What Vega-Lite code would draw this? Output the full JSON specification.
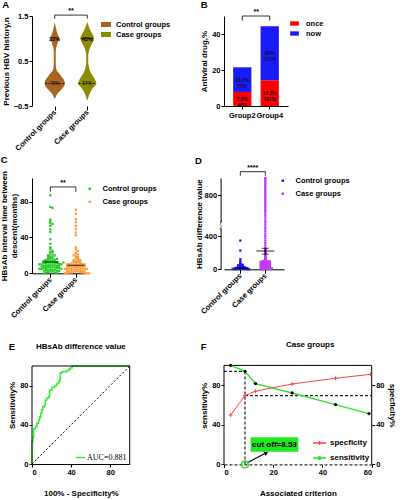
{
"$schema": "https://vega.github.io/schema/vega-lite/v6.json",
"padding": {"left": 0, "top": 0, "right": 0, "bottom": 0},
"columns": 2,
"spacing": {"row": 72, "column": 94},
"bounds": "flush",
"resolve": {"scale": {"color": "independent", "shape": "independent"}, "legend": {"color": "independent", "shape": "independent"}},
"config": {
 "font": "Liberation Sans",
 "view": {"stroke": null},
 "axis": {"labelFont": "Liberation Sans", "labelFontSize": 7.5, "labelFontWeight": "bold", "labelColor": "#000", "titleFont": "Liberation Sans", "titleFontSize": 8, "titleFontWeight": "bold", "titleColor": "#000", "domainColor": "#000", "tickColor": "#000", "grid": false, "tickSize": 3, "labelPadding": 1, "titlePadding": 3, "domainWidth": 1, "tickWidth": 1, "labelOverlap": false},
 "legend": {"labelFont": "Liberation Sans", "labelFontSize": 7.5, "labelFontWeight": "bold", "labelColor": "#000", "padding": 0},
 "title": {"fontSize": 9.5, "fontWeight": "bold", "anchor": "start", "frame": "bounds", "color": "#000", "font": "Liberation Sans"}
},
"concat": [
{
 "width": 78, "height": 90,
 "title": {"text": "A", "offset": -2.5},
 "layer": [
  {
   "data": {"values": [
    {"g":"Control groups","y":-0.34,"w":0},{"g":"Control groups","y":-0.3,"w":0.03},{"g":"Control groups","y":-0.23,"w":0.08},{"g":"Control groups","y":-0.16,"w":0.17},{"g":"Control groups","y":-0.08,"w":0.27},{"g":"Control groups","y":0,"w":0.31},{"g":"Control groups","y":0.07,"w":0.29},{"g":"Control groups","y":0.14,"w":0.22},{"g":"Control groups","y":0.22,"w":0.14},{"g":"Control groups","y":0.29,"w":0.06},{"g":"Control groups","y":0.45,"w":0.03},{"g":"Control groups","y":0.7,"w":0.03},{"g":"Control groups","y":0.81,"w":0.05},{"g":"Control groups","y":0.93,"w":0.1},{"g":"Control groups","y":1,"w":0.14},{"g":"Control groups","y":1.11,"w":0.08},{"g":"Control groups","y":1.22,"w":0.04},{"g":"Control groups","y":1.36,"w":0},
    {"g":"Case groups","y":-0.38,"w":0},{"g":"Case groups","y":-0.34,"w":0.02},{"g":"Case groups","y":-0.25,"w":0.06},{"g":"Case groups","y":-0.16,"w":0.12},{"g":"Case groups","y":-0.08,"w":0.2},{"g":"Case groups","y":0,"w":0.28},{"g":"Case groups","y":0.1,"w":0.23},{"g":"Case groups","y":0.18,"w":0.16},{"g":"Case groups","y":0.25,"w":0.1},{"g":"Case groups","y":0.37,"w":0.05},{"g":"Case groups","y":0.48,"w":0.03},{"g":"Case groups","y":0.63,"w":0.03},{"g":"Case groups","y":0.74,"w":0.06},{"g":"Case groups","y":0.85,"w":0.12},{"g":"Case groups","y":0.93,"w":0.18},{"g":"Case groups","y":1,"w":0.21},{"g":"Case groups","y":1.07,"w":0.18},{"g":"Case groups","y":1.15,"w":0.12},{"g":"Case groups","y":1.26,"w":0.05},{"g":"Case groups","y":1.37,"w":0}
   ]},
   "transform": [
    {"calculate": "datum.g === 'Control groups' ? 1 : 2", "as": "c"},
    {"calculate": "datum.c - datum.w", "as": "lo"},
    {"calculate": "datum.c + datum.w", "as": "hi"}
   ],
   "mark": {"type": "area", "orient": "horizontal", "interpolate": "monotone"},
   "encoding": {
    "y": {"field": "y", "type": "quantitative", "scale": {"domain": [-0.5, 1.5], "nice": false, "zero": false}, "axis": {"values": [-0.5, 0, 0.5, 1, 1.5], "format": ".1f", "title": "Previous HBV history,n", "labelOverlap": false}},
    "x": {"field": "lo", "type": "quantitative", "scale": {"domain": [0.3, 2.7], "nice": false, "zero": false}, "axis": {"values": [1, 2], "labelExpr": "datum.value == 1 ? 'Control groups' : 'Case groups'", "domain": false, "title": null, "labelAngle": -45, "labelAlign": "right", "labelBaseline": "middle", "tickSize": 4, "labelFontSize": 7.5, "labelOverlap": false}},
    "x2": {"field": "hi"},
    "color": {"field": "g", "type": "nominal", "scale": {"domain": ["Control groups", "Case groups"], "range": ["#a9651f", "#8c8c00"]}, "legend": {"title": null, "orient": "none", "legendX": 68, "legendY": 2.5, "symbolType": "M-1,-0.5H1V0.5H-1Z", "symbolSize": 100, "labelOffset": 4, "rowPadding": 0}}
   }
  },
  {
   "data": {"values": [{"g":"Control groups","y":0,"w":0.3},{"g":"Case groups","y":1,"w":0.2},{"g":"Case groups","y":0,"w":0.27}]},
   "transform": [
    {"calculate": "datum.g === 'Control groups' ? 1 : 2", "as": "c"},
    {"calculate": "datum.c - datum.w", "as": "lo"},
    {"calculate": "datum.c + datum.w", "as": "hi"}
   ],
   "mark": {"type": "rule", "color": "#000", "strokeWidth": 0.8, "strokeDash": [2, 1.5]},
   "encoding": {"x": {"field": "lo", "type": "quantitative"}, "x2": {"field": "hi"}, "y": {"field": "y", "type": "quantitative"}}
  },
  {
   "data": {"values": [{"g":"Control groups","y":1,"t":"22%"},{"g":"Case groups","y":1,"t":"43%"}]},
   "transform": [{"calculate": "datum.g === 'Control groups' ? 1 : 2", "as": "c"}],
   "mark": {"type": "text", "fontSize": 5.5, "fontWeight": "bold", "color": "#000", "baseline": "middle"},
   "encoding": {"x": {"field": "c", "type": "quantitative"}, "y": {"field": "y", "type": "quantitative"}, "text": {"field": "t"}}
  },
  {
   "data": {"values": [{"g":"Control groups","y":0,"t":"78%"},{"g":"Case groups","y":0,"t":"57%"}]},
   "transform": [{"calculate": "datum.g === 'Control groups' ? 1 : 2", "as": "c"}],
   "mark": {"type": "text", "fontSize": 4.5, "color": "#000", "baseline": "middle"},
   "encoding": {"x": {"field": "c", "type": "quantitative"}, "y": {"field": "y", "type": "quantitative"}, "text": {"field": "t"}}
  },
  {
   "data": {"values": [{"x":1,"y":1.44,"o":1},{"x":1,"y":1.52,"o":2},{"x":2,"y":1.52,"o":3},{"x":2,"y":1.44,"o":4}]},
   "mark": {"type": "line", "color": "#000", "strokeWidth": 0.8},
   "encoding": {"x": {"field": "x", "type": "quantitative"}, "y": {"field": "y", "type": "quantitative"}, "order": {"field": "o"}}
  },
  {
   "data": {"values": [{"x":1.5,"y":1.52,"t":"**"}]},
   "mark": {"type": "text", "fontSize": 7, "fontWeight": "bold", "baseline": "bottom", "dy": -1, "color": "#000"},
   "encoding": {"x": {"field": "x", "type": "quantitative"}, "y": {"field": "y", "type": "quantitative"}, "text": {"field": "t"}}
  }
 ]
},
{
 "width": 64, "height": 90,
 "title": {"text": "B", "offset": -1.5},
 "data": {"values": [
  {"grp":"Group2","type":"once","v":7.8,"lab":"7.8%\n4/51"},
  {"grp":"Group2","type":"now","v":13.7,"lab":"13.7%\n7/51"},
  {"grp":"Group4","type":"once","v":14.3,"lab":"14.3%\n10/70"},
  {"grp":"Group4","type":"now","v":30,"lab":"30%\n21/70"}
 ]},
 "layer": [
  {
   "mark": {"type": "bar"},
   "encoding": {
    "x": {"field": "grp", "type": "nominal", "scale": {"paddingInner": 0.335, "paddingOuter": 0.333}, "axis": {"title": null, "labelAngle": 0, "labelFontSize": 7.5, "labelPadding": 2}},
    "y": {"field": "v", "type": "quantitative", "stack": "zero", "scale": {"domain": [0, 50], "nice": false}, "axis": {"values": [0, 10, 20, 30, 40, 50], "title": "Antiviral drug,%", "labelOverlap": false}},
    "color": {"field": "type", "type": "nominal", "scale": {"domain": ["once", "now"], "range": ["#ff0000", "#1a1aff"]}, "legend": {"title": null, "orient": "none", "legendX": 65, "legendY": 2, "symbolType": "M-1,-0.5H1V0.5H-1Z", "symbolSize": 75, "labelOffset": 6, "rowPadding": 1}},
    "order": {"field": "type", "sort": "descending"}
   }
  },
  {
   "transform": [
    {"stack": "v", "groupby": ["grp"], "sort": [{"field": "type", "order": "descending"}], "as": ["v0", "v1"]},
    {"calculate": "(datum.v0 + datum.v1) / 2", "as": "mid"}
   ],
   "mark": {"type": "text", "fontSize": 5, "fontWeight": "bold", "color": "#111", "lineBreak": "\n", "lineHeight": 6, "baseline": "middle"},
   "encoding": {"x": {"field": "grp", "type": "nominal"}, "y": {"field": "mid", "type": "quantitative"}, "text": {"field": "lab"}}
  },
  {
   "data": {"values": [{"grp":"Group2","y":47.5,"o":1},{"grp":"Group2","y":50,"o":2},{"grp":"Group4","y":50,"o":3},{"grp":"Group4","y":47.5,"o":4}]},
   "mark": {"type": "line", "color": "#000", "strokeWidth": 0.8},
   "encoding": {"x": {"field": "grp", "type": "nominal"}, "y": {"field": "y", "type": "quantitative"}, "order": {"field": "o"}}
  },
  {
   "data": {"values": [{"grp":"Group2","y":50,"t":"**"}]},
   "mark": {"type": "text", "fontSize": 7, "fontWeight": "bold", "baseline": "bottom", "dy": -1, "dx": 14, "color": "#000"},
   "encoding": {"x": {"field": "grp", "type": "nominal"}, "y": {"field": "y", "type": "quantitative"}, "text": {"field": "t"}}
  }
 ]
},
{
 "width": 53, "height": 95.3,
 "title": {"text": "C", "offset": 6},
 "layer": [
  {
   "data": {"values": [
    {"g":"Control groups","v":87},{"g":"Control groups","v":74},{"g":"Control groups","v":73},{"g":"Control groups","v":60},{"g":"Control groups","v":58},{"g":"Control groups","v":56},{"g":"Control groups","v":55},{"g":"Control groups","v":53},{"g":"Control groups","v":49},{"g":"Control groups","v":46},{"g":"Control groups","v":38},{"g":"Control groups","v":33},{"g":"Control groups","v":29},{"g":"Control groups","v":27},{"g":"Control groups","v":25},{"g":"Control groups","v":24},{"g":"Control groups","v":22},{"g":"Control groups","v":21},{"g":"Control groups","v":20},{"g":"Control groups","v":19},{"g":"Control groups","v":18},{"g":"Control groups","v":17},{"g":"Control groups","v":16.5},{"g":"Control groups","v":16},{"g":"Control groups","v":15},{"g":"Control groups","v":15},{"g":"Control groups","v":14.5},{"g":"Control groups","v":14},{"g":"Control groups","v":13.5},{"g":"Control groups","v":13},{"g":"Control groups","v":13},{"g":"Control groups","v":12.5},{"g":"Control groups","v":12},{"g":"Control groups","v":12},{"g":"Control groups","v":12},{"g":"Control groups","v":11.5},{"g":"Control groups","v":11},{"g":"Control groups","v":11},{"g":"Control groups","v":11},{"g":"Control groups","v":10.5},{"g":"Control groups","v":10},{"g":"Control groups","v":10},{"g":"Control groups","v":10},{"g":"Control groups","v":9.5},{"g":"Control groups","v":9},{"g":"Control groups","v":9},{"g":"Control groups","v":9},{"g":"Control groups","v":8.5},{"g":"Control groups","v":8},{"g":"Control groups","v":8},{"g":"Control groups","v":8},{"g":"Control groups","v":7.5},{"g":"Control groups","v":7},{"g":"Control groups","v":7},{"g":"Control groups","v":7},{"g":"Control groups","v":6.5},{"g":"Control groups","v":6},{"g":"Control groups","v":6},{"g":"Control groups","v":6},{"g":"Control groups","v":5.5},{"g":"Control groups","v":5},{"g":"Control groups","v":5},{"g":"Control groups","v":5},{"g":"Control groups","v":4.5},{"g":"Control groups","v":4},{"g":"Control groups","v":4},{"g":"Control groups","v":4},{"g":"Control groups","v":3.5},{"g":"Control groups","v":3},{"g":"Control groups","v":3},{"g":"Control groups","v":2.5},{"g":"Control groups","v":2},{"g":"Control groups","v":2},{"g":"Control groups","v":1.5},{"g":"Control groups","v":1},{"g":"Control groups","v":1},{"g":"Control groups","v":0.5},{"g":"Control groups","v":0},{"g":"Control groups","v":18},{"g":"Control groups","v":20},{"g":"Control groups","v":14},{"g":"Control groups","v":16},{"g":"Control groups","v":12},{"g":"Control groups","v":24},
    {"g":"Case groups","v":71},{"g":"Case groups","v":66.5},{"g":"Case groups","v":60.5},{"g":"Case groups","v":57},{"g":"Case groups","v":53},{"g":"Case groups","v":49.5},{"g":"Case groups","v":45.5},{"g":"Case groups","v":42.5},{"g":"Case groups","v":29},{"g":"Case groups","v":27},{"g":"Case groups","v":25},{"g":"Case groups","v":23},{"g":"Case groups","v":22},{"g":"Case groups","v":21},{"g":"Case groups","v":20},{"g":"Case groups","v":19},{"g":"Case groups","v":18},{"g":"Case groups","v":17},{"g":"Case groups","v":16},{"g":"Case groups","v":15},{"g":"Case groups","v":15},{"g":"Case groups","v":14},{"g":"Case groups","v":14},{"g":"Case groups","v":13},{"g":"Case groups","v":13},{"g":"Case groups","v":12},{"g":"Case groups","v":12},{"g":"Case groups","v":12},{"g":"Case groups","v":11},{"g":"Case groups","v":11},{"g":"Case groups","v":10.5},{"g":"Case groups","v":10},{"g":"Case groups","v":10},{"g":"Case groups","v":10},{"g":"Case groups","v":9.5},{"g":"Case groups","v":9},{"g":"Case groups","v":9},{"g":"Case groups","v":9},{"g":"Case groups","v":8.5},{"g":"Case groups","v":8},{"g":"Case groups","v":8},{"g":"Case groups","v":8},{"g":"Case groups","v":7.5},{"g":"Case groups","v":7},{"g":"Case groups","v":7},{"g":"Case groups","v":7},{"g":"Case groups","v":6.5},{"g":"Case groups","v":6},{"g":"Case groups","v":6},{"g":"Case groups","v":6},{"g":"Case groups","v":5.5},{"g":"Case groups","v":5},{"g":"Case groups","v":5},{"g":"Case groups","v":5},{"g":"Case groups","v":4.5},{"g":"Case groups","v":4},{"g":"Case groups","v":4},{"g":"Case groups","v":4},{"g":"Case groups","v":3.5},{"g":"Case groups","v":3},{"g":"Case groups","v":3},{"g":"Case groups","v":3},{"g":"Case groups","v":2.5},{"g":"Case groups","v":2},{"g":"Case groups","v":2},{"g":"Case groups","v":2},{"g":"Case groups","v":1.5},{"g":"Case groups","v":1},{"g":"Case groups","v":1},{"g":"Case groups","v":1},{"g":"Case groups","v":0.5},{"g":"Case groups","v":0.5},{"g":"Case groups","v":0},{"g":"Case groups","v":0},{"g":"Case groups","v":0}
   ]},
   "transform": [
    {"calculate": "datum.g === 'Control groups' ? 1 : 2", "as": "c"},
    {"calculate": "floor(datum.v / 2.5)", "as": "b"},
    {"window": [{"op": "row_number", "as": "rn"}], "groupby": ["g", "b"]},
    {"calculate": "datum.c + (datum.rn % 2 === 0 ? 1 : -1) * floor(datum.rn / 2) * 0.086", "as": "xp"}
   ],
   "mark": {"type": "point", "shape": "square", "filled": true, "size": 5, "opacity": 1},
   "encoding": {
    "x": {"field": "xp", "type": "quantitative", "scale": {"domain": [0.28, 2.36], "nice": false, "zero": false}, "axis": {"values": [1, 2], "labelExpr": "datum.value == 1 ? 'Control groups' : 'Case groups'", "title": null, "labelAngle": -45, "labelAlign": "right", "labelBaseline": "middle", "tickSize": 4, "labelFontSize": 7.5, "labelOverlap": false}},
    "y": {"field": "v", "type": "quantitative", "scale": {"domain": [0, 106.4], "nice": false}, "axis": {"values": [0, 20, 40, 60, 80, 100], "title": ["HBsAb interval time between", "descent(months)"], "titleLineHeight": 10, "titlePadding": 1, "labelOverlap": false}},
    "color": {"field": "g", "type": "nominal", "scale": {"domain": ["Control groups", "Case groups"], "range": ["#22cc22", "#ff9a3c"]}, "legend": {"title": null, "orient": "none", "legendX": 54, "legendY": 7, "symbolType": "square", "symbolSize": 6, "labelOffset": 9, "rowPadding": 4}}
   }
  },
  {
   "data": {"values": [{"g":"Control groups","v":12.6},{"g":"Case groups","v":8.9}]},
   "transform": [{"calculate": "datum.g === 'Control groups' ? 1 : 2", "as": "c"}],
   "mark": {"type": "tick", "orient": "horizontal", "size": 17, "thickness": 1.2, "color": "#000"},
   "encoding": {"x": {"field": "c", "type": "quantitative"}, "y": {"field": "v", "type": "quantitative"}}
  },
  {
   "data": {"values": [{"x":1,"y":91,"o":1},{"x":1,"y":96.4,"o":2},{"x":2,"y":96.4,"o":3},{"x":2,"y":91,"o":4}]},
   "mark": {"type": "line", "color": "#000", "strokeWidth": 0.8},
   "encoding": {"x": {"field": "x", "type": "quantitative"}, "y": {"field": "y", "type": "quantitative"}, "order": {"field": "o"}}
  },
  {
   "data": {"values": [{"x":1.5,"y":96.4,"t":"**"}]},
   "mark": {"type": "text", "fontSize": 7, "fontWeight": "bold", "baseline": "bottom", "dy": -1, "color": "#000"},
   "encoding": {"x": {"field": "x", "type": "quantitative"}, "y": {"field": "y", "type": "quantitative"}, "text": {"field": "t"}}
  }
 ]
},
{
 "width": 60, "height": 91.3,
 "title": {"text": "D", "offset": -2},
 "layer": [
  {
   "data": {"values": [
    {"g":"Control groups","v":345},{"g":"Control groups","v":225},{"g":"Control groups","v":122},{"g":"Control groups","v":98},{"g":"Control groups","v":82},{"g":"Control groups","v":70},{"g":"Control groups","v":62},{"g":"Control groups","v":58},{"g":"Control groups","v":55},{"g":"Control groups","v":52},{"g":"Control groups","v":50},{"g":"Control groups","v":48},{"g":"Control groups","v":45},{"g":"Control groups","v":43},{"g":"Control groups","v":40},{"g":"Control groups","v":38},{"g":"Control groups","v":36},{"g":"Control groups","v":34},{"g":"Control groups","v":32},{"g":"Control groups","v":30},{"g":"Control groups","v":28},{"g":"Control groups","v":27},{"g":"Control groups","v":25},{"g":"Control groups","v":24},{"g":"Control groups","v":22},{"g":"Control groups","v":21},{"g":"Control groups","v":20},{"g":"Control groups","v":19},{"g":"Control groups","v":18},{"g":"Control groups","v":17},{"g":"Control groups","v":16},{"g":"Control groups","v":15},{"g":"Control groups","v":14},{"g":"Control groups","v":13},{"g":"Control groups","v":12},{"g":"Control groups","v":11},{"g":"Control groups","v":10},{"g":"Control groups","v":9},{"g":"Control groups","v":8},{"g":"Control groups","v":7},{"g":"Control groups","v":6},{"g":"Control groups","v":5},{"g":"Control groups","v":4},{"g":"Control groups","v":3},{"g":"Control groups","v":2},{"g":"Control groups","v":1},{"g":"Control groups","v":0.5},{"g":"Control groups","v":0},{"g":"Control groups","v":0},
    {"g":"Case groups","v":1000},{"g":"Case groups","v":980},{"g":"Case groups","v":960},{"g":"Case groups","v":940},{"g":"Case groups","v":920},{"g":"Case groups","v":900},{"g":"Case groups","v":880},{"g":"Case groups","v":860},{"g":"Case groups","v":840},{"g":"Case groups","v":820},{"g":"Case groups","v":800},{"g":"Case groups","v":780},{"g":"Case groups","v":760},{"g":"Case groups","v":740},{"g":"Case groups","v":720},{"g":"Case groups","v":700},{"g":"Case groups","v":680},{"g":"Case groups","v":660},{"g":"Case groups","v":640},{"g":"Case groups","v":620},{"g":"Case groups","v":600},
    {"g":"Case groups","v":580},{"g":"Case groups","v":560},{"g":"Case groups","v":540},{"g":"Case groups","v":520},{"g":"Case groups","v":500},{"g":"Case groups","v":480},{"g":"Case groups","v":460},{"g":"Case groups","v":440},{"g":"Case groups","v":420},{"g":"Case groups","v":400},
    {"g":"Case groups","v":372},{"g":"Case groups","v":344},{"g":"Case groups","v":316},{"g":"Case groups","v":288},{"g":"Case groups","v":260},{"g":"Case groups","v":250},{"g":"Case groups","v":240},{"g":"Case groups","v":230},{"g":"Case groups","v":222},{"g":"Case groups","v":215},{"g":"Case groups","v":208},{"g":"Case groups","v":200},{"g":"Case groups","v":194},{"g":"Case groups","v":188},{"g":"Case groups","v":182},{"g":"Case groups","v":176},{"g":"Case groups","v":170},{"g":"Case groups","v":164},{"g":"Case groups","v":158},{"g":"Case groups","v":152},{"g":"Case groups","v":146},{"g":"Case groups","v":140},{"g":"Case groups","v":134},{"g":"Case groups","v":128},{"g":"Case groups","v":122},{"g":"Case groups","v":116},{"g":"Case groups","v":110},{"g":"Case groups","v":104},{"g":"Case groups","v":100},{"g":"Case groups","v":97},{"g":"Case groups","v":94},{"g":"Case groups","v":91},{"g":"Case groups","v":88},{"g":"Case groups","v":85},{"g":"Case groups","v":82},{"g":"Case groups","v":79},{"g":"Case groups","v":76},{"g":"Case groups","v":73},{"g":"Case groups","v":70},{"g":"Case groups","v":67},{"g":"Case groups","v":64},{"g":"Case groups","v":61},{"g":"Case groups","v":58},{"g":"Case groups","v":55},{"g":"Case groups","v":52},{"g":"Case groups","v":49},{"g":"Case groups","v":46},{"g":"Case groups","v":43},{"g":"Case groups","v":40},{"g":"Case groups","v":37},{"g":"Case groups","v":34},{"g":"Case groups","v":31},{"g":"Case groups","v":28},{"g":"Case groups","v":25},{"g":"Case groups","v":22},{"g":"Case groups","v":19},{"g":"Case groups","v":16},{"g":"Case groups","v":13},{"g":"Case groups","v":10},{"g":"Case groups","v":8},{"g":"Case groups","v":6},{"g":"Case groups","v":4},{"g":"Case groups","v":2},{"g":"Case groups","v":0},
    {"g":"Case groups","v":99},{"g":"Case groups","v":95},{"g":"Case groups","v":90},{"g":"Case groups","v":86},{"g":"Case groups","v":81},{"g":"Case groups","v":77},{"g":"Case groups","v":72},{"g":"Case groups","v":68},{"g":"Case groups","v":63},{"g":"Case groups","v":59},{"g":"Case groups","v":54},{"g":"Case groups","v":50},{"g":"Case groups","v":45},{"g":"Case groups","v":41},{"g":"Case groups","v":36},{"g":"Case groups","v":32},{"g":"Case groups","v":27},{"g":"Case groups","v":23},{"g":"Case groups","v":18},{"g":"Case groups","v":14},{"g":"Case groups","v":9},{"g":"Case groups","v":5},{"g":"Case groups","v":1},{"g":"Case groups","v":3},{"g":"Case groups","v":7},{"g":"Case groups","v":11},{"g":"Case groups","v":15},{"g":"Case groups","v":20},{"g":"Case groups","v":24},{"g":"Case groups","v":29},{"g":"Case groups","v":33},{"g":"Case groups","v":38},{"g":"Case groups","v":42},{"g":"Case groups","v":47},{"g":"Case groups","v":51},{"g":"Case groups","v":56},{"g":"Case groups","v":60},{"g":"Case groups","v":65},{"g":"Case groups","v":69},{"g":"Case groups","v":74},{"g":"Case groups","v":78},{"g":"Case groups","v":83},{"g":"Case groups","v":87},{"g":"Case groups","v":92},{"g":"Case groups","v":96}
   ]},
   "transform": [
    {"calculate": "datum.g === 'Control groups' ? 1 : 2", "as": "c"},
    {"calculate": "floor(datum.v / 6)", "as": "b"},
    {"window": [{"op": "row_number", "as": "rn"}], "groupby": ["g", "b"]},
    {"calculate": "datum.c + (datum.rn % 2 === 0 ? 1 : -1) * floor(datum.rn / 2) * 0.088", "as": "xp"}
   ],
   "mark": {"type": "point", "shape": "square", "filled": true, "size": 5, "opacity": 1},
   "encoding": {
    "x": {"field": "xp", "type": "quantitative", "scale": {"domain": [0.348, 2.748], "nice": false, "zero": false}, "axis": {"values": [1, 2], "labelExpr": "datum.value == 1 ? 'Control groups' : 'Case groups'", "title": null, "labelAngle": -45, "labelAlign": "right", "labelBaseline": "middle", "tickSize": 4, "labelFontSize": 7.5, "labelOverlap": false}},
    "y": {"field": "v", "type": "quantitative", "scale": {"domain": [0, 400, 600, 1000], "range": [91.3, 58, 34.7, 0], "nice": false, "zero": false}, "axis": {"values": [0, 200, 400, 600, 800, 1000], "format": "d", "title": "HBsAb difference value", "offset": 3.4, "titlePadding": 1, "labelOverlap": false}},
    "color": {"field": "g", "type": "nominal", "scale": {"domain": ["Control groups", "Case groups"], "range": ["#1a1aff", "#c03cf0"]}, "legend": {"title": null, "orient": "none", "legendX": 55, "legendY": -1, "symbolType": "square", "symbolSize": 6, "labelOffset": 9, "rowPadding": 4}}
   }
  },
  {
   "data": {"values": [{"g":"Control groups","v":15},{"g":"Case groups","v":220}]},
   "transform": [{"calculate": "datum.g === 'Control groups' ? 1 : 2", "as": "c"}],
   "mark": {"type": "tick", "orient": "horizontal", "size": 18, "thickness": 1.2, "color": "#000"},
   "encoding": {"x": {"field": "c", "type": "quantitative"}, "y": {"field": "v", "type": "quantitative"}}
  },
  {
   "data": {"values": [{"g":"Control groups","v":10},{"g":"Control groups","v":20},{"g":"Case groups","v":182},{"g":"Case groups","v":252}]},
   "transform": [{"calculate": "datum.g === 'Control groups' ? 1 : 2", "as": "c"}],
   "mark": {"type": "tick", "orient": "horizontal", "size": 7, "thickness": 1, "color": "#000"},
   "encoding": {"x": {"field": "c", "type": "quantitative"}, "y": {"field": "v", "type": "quantitative"}}
  },
  {
   "data": {"values": [{"g":"Control groups","v":10,"v2":20},{"g":"Case groups","v":182,"v2":252}]},
   "transform": [{"calculate": "datum.g === 'Control groups' ? 1 : 2", "as": "c"}],
   "mark": {"type": "rule", "color": "#000", "strokeWidth": 1},
   "encoding": {"x": {"field": "c", "type": "quantitative"}, "y": {"field": "v", "type": "quantitative"}, "y2": {"field": "v2"}}
  },
  {
   "data": {"values": [{"x":0.348,"y":466,"y2":514}]},
   "mark": {"type": "rule", "color": "#fff", "strokeWidth": 3, "xOffset": -3.4},
   "encoding": {"x": {"field": "x", "type": "quantitative"}, "y": {"field": "y", "type": "quantitative"}, "y2": {"field": "y2"}}
  },
  {
   "data": {"values": [{"x":0.348,"y":466},{"x":0.348,"y":514}]},
   "mark": {"type": "text", "fontSize": 7, "color": "#000", "xOffset": -3.4, "baseline": "middle", "text": "/"},
   "encoding": {"x": {"field": "x", "type": "quantitative"}, "y": {"field": "y", "type": "quantitative"}}
  },
  {
   "data": {"values": [{"x":1,"y":1027,"o":1},{"x":1,"y":1073,"o":2},{"x":2,"y":1073,"o":3},{"x":2,"y":1027,"o":4}]},
   "mark": {"type": "line", "color": "#000", "strokeWidth": 0.8},
   "encoding": {"x": {"field": "x", "type": "quantitative"}, "y": {"field": "y", "type": "quantitative"}, "order": {"field": "o"}}
  },
  {
   "data": {"values": [{"x":1.5,"y":1073,"t":"****"}]},
   "mark": {"type": "text", "fontSize": 7, "fontWeight": "bold", "baseline": "bottom", "dy": -1, "color": "#000"},
   "encoding": {"x": {"field": "x", "type": "quantitative"}, "y": {"field": "y", "type": "quantitative"}, "text": {"field": "t"}}
  }
 ]
},
{
 "width": 97.7, "height": 118,
 "title": {"text": "E", "offset": -8.5},
 "layer": [
  {
   "data": {"values": [
    {"fpr":0,"tpr":0},{"fpr":0,"tpr":23},{"fpr":1,"tpr":23},{"fpr":1,"tpr":27},{"fpr":1.7,"tpr":27},{"fpr":1.7,"tpr":36},{"fpr":3.4,"tpr":36},{"fpr":3.4,"tpr":38},{"fpr":5,"tpr":38},{"fpr":5,"tpr":41.5},{"fpr":6.8,"tpr":41.5},{"fpr":6.8,"tpr":45},{"fpr":7.8,"tpr":45},{"fpr":7.8,"tpr":48},{"fpr":9,"tpr":48},{"fpr":9,"tpr":52},{"fpr":10,"tpr":52},{"fpr":10,"tpr":55},{"fpr":11,"tpr":55},{"fpr":11,"tpr":58.5},{"fpr":12.6,"tpr":58.5},{"fpr":12.6,"tpr":60},{"fpr":13.6,"tpr":60},{"fpr":13.6,"tpr":65},{"fpr":15,"tpr":65},{"fpr":15,"tpr":67},{"fpr":17,"tpr":67},{"fpr":17,"tpr":69},{"fpr":18,"tpr":69},{"fpr":18,"tpr":75.5},{"fpr":20.5,"tpr":75.5},{"fpr":20.5,"tpr":78},{"fpr":23,"tpr":78},{"fpr":23,"tpr":79.5},{"fpr":25,"tpr":79.5},{"fpr":25,"tpr":82},{"fpr":27,"tpr":82},{"fpr":27,"tpr":84},{"fpr":28.3,"tpr":84},{"fpr":28.3,"tpr":86},{"fpr":29,"tpr":86},{"fpr":29,"tpr":93},{"fpr":30.7,"tpr":93},{"fpr":30.7,"tpr":94},{"fpr":35.8,"tpr":94},{"fpr":35.8,"tpr":95.5},{"fpr":37.5,"tpr":95.5},{"fpr":37.5,"tpr":96.5},{"fpr":39,"tpr":96.5},{"fpr":39,"tpr":98},{"fpr":41,"tpr":98},{"fpr":41,"tpr":100},{"fpr":100,"tpr":100}
   ]},
   "mark": {"type": "line", "strokeWidth": 1.5},
   "encoding": {
    "x": {"field": "fpr", "type": "quantitative", "scale": {"domain": [0, 100], "nice": false}, "axis": {"values": [0, 20, 40, 60, 80, 100], "title": "100% - Specificity%", "titlePadding": 14, "labelOverlap": false}},
    "y": {"field": "tpr", "type": "quantitative", "scale": {"domain": [0, 120.4], "nice": false}, "axis": {"values": [0, 20, 40, 60, 80, 100], "title": "Sensitivity%", "domain": false, "labelOverlap": false}},
    "order": [{"field": "fpr", "type": "quantitative"}, {"field": "tpr", "type": "quantitative"}],
    "color": {"datum": "AUC=0.881", "type": "nominal", "scale": {"range": ["#33ee33"]}, "legend": {"title": null, "orient": "none", "legendX": 43, "legendY": 106, "symbolType": "stroke", "symbolSize": 90, "symbolStrokeWidth": 1.5, "labelFont": "Liberation Serif", "labelFontWeight": "normal", "labelFontSize": 8, "labelOffset": 1}}
   }
  },
  {
   "data": {"values": [{"fpr":0,"tpr":0},{"fpr":100,"tpr":100}]},
   "mark": {"type": "line", "color": "#000", "strokeWidth": 1, "strokeDash": [2, 2]},
   "encoding": {"x": {"field": "fpr", "type": "quantitative"}, "y": {"field": "tpr", "type": "quantitative"}}
  },
  {
   "data": {"values": [{"fpr":0,"fpr2":100,"tpr":100,"tpr2":100},{"fpr":100,"fpr2":100,"tpr":0,"tpr2":100},{"fpr":0,"fpr2":0,"tpr":0,"tpr2":100}]},
   "mark": {"type": "rule", "color": "#000", "strokeWidth": 1},
   "encoding": {"x": {"field": "fpr", "type": "quantitative"}, "x2": {"field": "fpr2"}, "y": {"field": "tpr", "type": "quantitative"}, "y2": {"field": "tpr2"}}
  },
  {
   "data": {"values": [{"fpr":50,"tpr":119,"t":"HBsAb difference value"}]},
   "mark": {"type": "text", "fontSize": 8, "fontWeight": "bold", "color": "#000", "baseline": "middle"},
   "encoding": {"x": {"field": "fpr", "type": "quantitative"}, "y": {"field": "tpr", "type": "quantitative"}, "text": {"field": "t"}}
  }
 ]
},
{
 "width": 147.7, "height": 118.4,
 "title": {"text": "F", "offset": -10},
 "resolve": {"scale": {"y": "independent"}},
 "layer": [
  {
   "layer": [
    {
     "data": {"values": [{"x":0,"x2":8.53,"y":94,"y2":94},{"x":8.53,"x2":8.53,"y":0,"y2":94},{"x":8.53,"x2":60,"y":69.5,"y2":69.5}]},
     "mark": {"type": "rule", "color": "#222", "strokeWidth": 1.2, "strokeDash": [3, 2]},
     "encoding": {
      "x": {"field": "x", "type": "quantitative", "scale": {"domain": [0, 60], "nice": false}, "axis": {"values": [0, 20, 40, 60], "title": "Associated criterion", "titlePadding": 14, "domainDash": [3, 2], "labelOverlap": false}},
      "x2": {"field": "x2"},
      "y": {"field": "y", "type": "quantitative", "scale": {"domain": [0, 119.6], "nice": false}, "axis": {"values": [0, 20, 40, 60, 80, 100], "title": "sensitivity%", "domain": false, "labelOverlap": false}},
      "y2": {"field": "y2"}
     }
    },
    {
     "data": {"values": [{"x":0,"x2":60,"y":100,"y2":100},{"x":0,"x2":0,"y":0,"y2":100},{"x":60,"x2":60,"y":0,"y2":100}]},
     "mark": {"type": "rule", "color": "#000", "strokeWidth": 1},
     "encoding": {"x": {"field": "x", "type": "quantitative"}, "x2": {"field": "x2"}, "y": {"field": "y", "type": "quantitative"}, "y2": {"field": "y2"}}
    },
    {
     "data": {"values": [{"x":35,"y":120.2,"t":"Case groups"}]},
     "mark": {"type": "text", "fontSize": 8, "fontWeight": "bold", "color": "#000", "baseline": "middle"},
     "encoding": {"x": {"field": "x", "type": "quantitative"}, "y": {"field": "y", "type": "quantitative"}, "text": {"field": "t"}}
    },
    {
     "data": {"values": [{"x":2.7,"v":100},{"x":8.53,"v":94},{"x":12.8,"v":81.6},{"x":27.7,"v":72.2},{"x":45.3,"v":60.4},{"x":58.9,"v":51.3}]},
     "mark": {"type": "line", "color": "#33e033", "strokeWidth": 1.5},
     "encoding": {"x": {"field": "x", "type": "quantitative"}, "y": {"field": "v", "type": "quantitative"}}
    },
    {
     "data": {"values": [{"x":2.7,"v":100},{"x":8.53,"v":94},{"x":12.8,"v":81.6},{"x":27.7,"v":72.2},{"x":45.3,"v":60.4},{"x":58.9,"v":51.3}]},
     "mark": {"type": "point", "shape": "circle", "filled": true, "color": "#000", "size": 10, "opacity": 1},
     "encoding": {"x": {"field": "x", "type": "quantitative"}, "y": {"field": "v", "type": "quantitative"}}
    },
    {
     "data": {"values": [{"s":"specficity","x":2.7,"v":50},{"s":"sensitivity","x":2.7,"v":100}]},
     "mark": {"type": "point", "filled": false, "opacity": 0},
     "encoding": {
      "x": {"field": "x", "type": "quantitative"},
      "y": {"field": "v", "type": "quantitative"},
      "color": {"field": "s", "type": "nominal", "scale": {"domain": ["specficity", "sensitivity"], "range": ["#ff4040", "#33e033"]}, "legend": {"title": null, "orient": "none", "legendX": 88, "legendY": 89.5, "symbolSize": 170, "symbolStrokeWidth": 1.3, "symbolOpacity": 1, "symbolFillColor": "#000", "labelFontSize": 8, "labelFontWeight": "bold", "labelOffset": 3, "rowPadding": 2}},
      "shape": {"field": "s", "type": "nominal", "scale": {"domain": ["specficity", "sensitivity"], "range": ["M-1,0L1,0M0,-0.3L0,0.3", "M-1,0L1,0M-0.22,0A0.22,0.22,0,1,0,0.22,0A0.22,0.22,0,1,0,-0.22,0Z"]}, "legend": {"title": null, "orient": "none", "legendX": 88, "legendY": 89.5, "symbolSize": 170, "symbolStrokeWidth": 1.3, "symbolOpacity": 1, "symbolFillColor": "#000", "labelFontSize": 8, "labelFontWeight": "bold", "labelOffset": 3, "rowPadding": 2}}
     }
    },
    {
     "data": {"values": [{"x":10.8,"x2":30.2,"y":12.8,"y2":27.3}]},
     "mark": {"type": "rect", "color": "#22e822"},
     "encoding": {"x": {"field": "x", "type": "quantitative"}, "x2": {"field": "x2"}, "y": {"field": "y", "type": "quantitative"}, "y2": {"field": "y2"}}
    },
    {
     "data": {"values": [{"x":20.5,"y":20,"t":"cut off=8.53"}]},
     "mark": {"type": "text", "fontSize": 8, "fontWeight": "bold", "color": "#000", "baseline": "middle"},
     "encoding": {"x": {"field": "x", "type": "quantitative"}, "y": {"field": "y", "type": "quantitative"}, "text": {"field": "t"}}
    },
    {
     "data": {"values": [{"x":9.3,"y":1.5,"x2":16.6,"y2":10.9}]},
     "mark": {"type": "rule", "color": "#000", "strokeWidth": 1.1},
     "encoding": {"x": {"field": "x", "type": "quantitative"}, "x2": {"field": "x2"}, "y": {"field": "y", "type": "quantitative"}, "y2": {"field": "y2"}}
    },
    {
     "data": {"values": [{"x":17.2,"y":11.4}]},
     "mark": {"type": "point", "shape": "triangle-up", "angle": 66, "size": 22, "filled": true, "color": "#000", "opacity": 1},
     "encoding": {"x": {"field": "x", "type": "quantitative"}, "y": {"field": "y", "type": "quantitative"}}
    },
    {
     "data": {"values": [{"x":8.53,"y":0}]},
     "mark": {"type": "point", "shape": "circle", "size": 45, "filled": false, "color": "#33e033", "strokeWidth": 1.5, "opacity": 1},
     "encoding": {"x": {"field": "x", "type": "quantitative"}, "y": {"field": "y", "type": "quantitative"}}
    }
   ]
  },
  {
   "data": {"values": [{"x":2.7,"v":49.8},{"x":8.53,"v":69.5},{"x":12.8,"v":74},{"x":27.7,"v":81.2},{"x":45.3,"v":87},{"x":59.5,"v":91}]},
   "layer": [
    {
     "mark": {"type": "line", "color": "#ff4040", "strokeWidth": 1},
     "encoding": {
      "x": {"field": "x", "type": "quantitative"},
      "y": {"field": "v", "type": "quantitative", "scale": {"domain": [0, 119.6], "nice": false}, "axis": {"orient": "right", "values": [0, 20, 40, 60, 80, 100], "title": "specficity%", "domain": false, "labelOverlap": false}}
     }
    },
    {
     "mark": {"type": "point", "shape": "M0,-1L0,1M-1,0L1,0", "filled": false, "color": "#ff4040", "size": 14, "strokeWidth": 1, "opacity": 1},
     "encoding": {"x": {"field": "x", "type": "quantitative"}, "y": {"field": "v", "type": "quantitative"}}
    }
   ]
  }
 ]
}
]
}
